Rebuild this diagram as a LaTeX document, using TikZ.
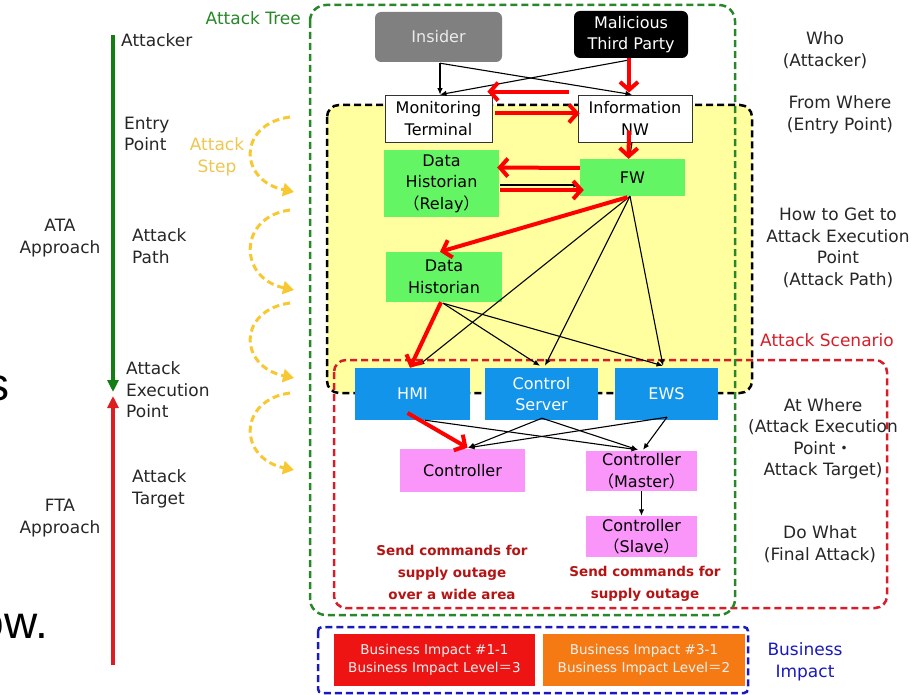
\documentclass[tikz,border=0pt]{standalone}
\usepackage{fontspec}
\setmainfont{DejaVu Sans}
\newfontfamily\cjk{Noto Sans CJK JP}
\newfontfamily\bodyfont{Liberation Sans}
\usetikzlibrary{arrows.meta}
% full-width punctuation
\newcommand\fwlp{{\cjk （}}
\newcommand\fwrp{{\cjk ）}}
\newcommand\fweq{{\cjk ＝}}
\newcommand\fwdot{{\cjk ・}}
\definecolor{treegreen}{RGB}{40,135,40}
\definecolor{axisgreen}{RGB}{20,125,20}
\definecolor{axisred}{RGB}{220,30,35}
\definecolor{scenred}{RGB}{215,30,40}
\definecolor{impblue}{RGB}{25,25,190}
\definecolor{pathyellow}{RGB}{255,255,160}
\definecolor{stepgold}{RGB}{248,200,50}
\definecolor{steptext}{RGB}{238,198,80}
\definecolor{insgray}{RGB}{128,128,128}
\definecolor{nodegreen}{RGB}{100,245,100}
\definecolor{nodeblue}{RGB}{18,148,235}
\definecolor{nodepink}{RGB}{250,150,250}
\definecolor{impred}{RGB}{238,20,20}
\definecolor{imporange}{RGB}{245,122,20}
\definecolor{cmdred}{RGB}{180,20,20}
\definecolor{arrred}{RGB}{255,0,0}
\begin{document}
\begin{tikzpicture}[x=1pt,y=-1pt,
  lbl/.style={font=\fontsize{17}{21.5}\selectfont, text=black!85, align=center, inner sep=0pt},
  box/.style={rectangle, inner sep=0pt, align=center, font=\fontsize{16}{21.5}\selectfont},
  impbox/.style={rectangle, inner sep=0pt, align=center, text=white!95!black,
    font=\fontsize{13.5}{18}\selectfont, minimum width=201pt, minimum height=52pt},
  cmd/.style={align=center, inner sep=0pt, text=cmdred, font=\bfseries\fontsize{13.5}{22}\selectfont},
  frame/.style={line width=2.5pt, dash pattern=on 7pt off 4pt, rounded corners=12pt},
  blk/.style={draw=black, line width=1.1pt, -{Latex[length=6.5pt,width=5.5pt]}},
  redarr/.style={draw=arrred, line width=4pt, -{Straight Barb[length=8pt,width=18pt]}},
  steparc/.style={draw=stepgold, line width=3pt, dash pattern=on 7pt off 4pt,
    -{Triangle[length=11pt,width=13pt,fill=stepgold]}},
  axis/.style={line width=4pt, -{Triangle[length=12pt,width=11pt]}},
  bodytxt/.style={anchor=base east, inner sep=0pt, font=\bodyfont\fontsize{46}{46}\selectfont}
]
\useasboundingbox (0,0) rectangle (921,695);

% fragments of large body text at the left edge
\node[bodytxt] (bigs) at (10,400) {s};
\node[bodytxt] (bigow) at (48,638) {ow.};

% approach axes
\coordinate (ataTop) at (113,35);
\coordinate (ataEnd) at (113,392);
\coordinate (ftaBot) at (113,665);
\coordinate (ftaEnd) at (113,396);
\draw[axis, draw=axisgreen, fill=axisgreen] (ataTop) -- (ataEnd);
\draw[axis, draw=axisred, fill=axisred] (ftaBot) -- (ftaEnd);

\node[lbl, anchor=west] (tAttacker) at (121,40) {Attacker};
\node[lbl, anchor=west, align=left] (tEntry) at (124,134) {Entry\\Point};
\node[lbl, anchor=west, align=left] (tPath) at (132,246) {Attack\\Path};
\node[lbl, anchor=west, align=left] (tExec) at (126,390) {Attack\\Execution\\Point};
\node[lbl, anchor=west, align=left] (tTarget) at (132,489) {Attack\\Target};
\node[lbl] (tATA) at (60,238) {ATA\\Approach};
\node[lbl] (tFTA) at (60,518) {FTA\\Approach};
\node[lbl, text=steptext] (tStep) at (217,157) {Attack\\Step};

% attack steps
\coordinate (s1a) at (290,117); \coordinate (s1b) at (294,192);
\coordinate (s2a) at (290,210); \coordinate (s2b) at (294,290);
\coordinate (s3a) at (290,303); \coordinate (s3b) at (294,378);
\coordinate (s4a) at (290,393); \coordinate (s4b) at (294,470);
\draw[steparc] (s1a) .. controls (238,124) and (238,180) .. (s1b);
\draw[steparc] (s2a) .. controls (238,217) and (238,278) .. (s2b);
\draw[steparc] (s3a) .. controls (238,310) and (238,366) .. (s3b);
\draw[steparc] (s4a) .. controls (238,400) and (238,458) .. (s4b);

% frames
\draw[frame, fill=pathyellow, draw=black] (327,105) rectangle (752,393);
\draw[frame, draw=scenred] (334,360) rectangle (887,608);
\draw[frame, draw=treegreen, rounded corners=16pt] (310,5) rectangle (735,615);
\draw[frame, draw=impblue, rounded corners=4pt] (318,627) rectangle (748,693);

\node[lbl, text=treegreen, anchor=east] (tTree) at (301,18) {Attack Tree};
\node[lbl, text=scenred] (tScen) at (827,340) {Attack Scenario};
\node[lbl, text=impblue] (tImp) at (805,662) {Business\\Impact};

% right-hand questions
\node[lbl] (qWho) at (825,50) {Who\\(Attacker)};
\node[lbl] (qFrom) at (840,115) {From Where\\(Entry Point)};
\node[lbl] (qHow) at (838,248) {How to Get to\\Attack Execution\\Point\\(Attack Path)};
\node[lbl] (qAt) at (823,439) {At Where\\(Attack Execution\\Point\fwdot\\Attack Target)};
\node[lbl] (qDo) at (820,544) {Do What\\(Final Attack)};

% nodes
\node[box, fill=insgray, text=white!92!black, rounded corners=6pt, minimum width=127pt, minimum height=50pt] (ins) at (438.5,37) {Insider};
\node[box, fill=black, text=white, rounded corners=6pt, minimum width=114pt, minimum height=47pt] (mal) at (631,34.5) {Malicious\\Third Party};
\node[box, fill=white, draw=black!80, line width=0.8pt, minimum width=107pt, minimum height=47pt] (mon) at (438.5,118.5) {Monitoring\\Terminal};
\node[box, fill=white, draw=black!80, line width=0.8pt, minimum width=114pt, minimum height=47pt] (info) at (635,118.5) {Information\\NW};
\node[box, fill=nodegreen, minimum width=115pt, minimum height=67pt] (dhr) at (441.5,183.5) {Data\\Historian\\\fwlp Relay\fwrp};
\node[box, fill=nodegreen, minimum width=105pt, minimum height=37pt] (fw) at (632.5,177.5) {FW};
\node[box, fill=nodegreen, minimum width=116pt, minimum height=50pt] (dh) at (444,277) {Data\\Historian};
\node[box, fill=nodeblue, text=white, minimum width=115pt, minimum height=52pt] (hmi) at (412.5,394) {HMI};
\node[box, fill=nodeblue, text=white, minimum width=113pt, minimum height=52pt] (cs) at (541.5,394) {Control\\Server};
\node[box, fill=nodeblue, text=white, minimum width=103pt, minimum height=52pt] (ews) at (666.5,394) {EWS};
\node[box, fill=nodepink, minimum width=125pt, minimum height=43pt] (ctrl) at (462.5,470.5) {Controller};
\node[box, fill=nodepink, minimum width=111pt, minimum height=40pt] (ctrlm) at (641.5,471) {Controller\\\fwlp Master\fwrp};
\node[box, fill=nodepink, minimum width=111pt, minimum height=41pt] (ctrls) at (641.5,536.5) {Controller\\\fwlp Slave\fwrp};

\node[cmd] (cmdWide) at (452,572) {Send commands for\\supply outage\\over a wide area};
\node[cmd] (cmdOne) at (645,584) {Send commands for\\supply outage};

\node[impbox, fill=impred] (bi1) at (434.5,660) {Business Impact \#1-1\\Business Impact Level\fweq 3};
\node[impbox, fill=imporange, minimum width=202pt] (bi3) at (644,660) {Business Impact \#3-1\\Business Impact Level\fweq 2};

% black connectors
\draw[blk] ([shift={(1.5,1)}]ins.south) -- ([shift={(1.5,0)}]mon.north);
\draw[blk] ([shift={(1.5,1)}]ins.south) -- ([shift={(-3,0)}]info.north);
\draw[blk] ([shift={(-3,2)}]mal.south) -- ([shift={(1.5,0)}]mon.north);
\draw[blk] ([shift={(-3,0)}]info.south) -- ([shift={(-3,0)}]fw.north);
\draw[blk] ([shift={(1,1.5)}]dhr.east) -- ([shift={(0,7.5)}]fw.west);
\coordinate (fwb) at ([shift={(-2.5,0)}]fw.south);
\coordinate (dhb) at ([shift={(-1,1)}]dh.south);
\draw[blk] (fwb) -- ([shift={(5.5,-2)}]hmi.north);
\draw[blk] (fwb) -- ([shift={(3.5,-2)}]cs.north);
\draw[blk] (fwb) -- ([shift={(-3.5,-2)}]ews.north);
\draw[blk] (dhb) -- ([shift={(-1.5,-2)}]cs.north);
\draw[blk] (dhb) -- ([shift={(-3.5,-2)}]ews.north);
\coordinate (hmib) at ([shift={(12.5,0)}]hmi.south);
\coordinate (csb) at ([shift={(0.5,-2)}]cs.south);
\coordinate (ewsb) at ([shift={(0.5,-3)}]ews.south);
\draw[blk] (hmib) -- ([shift={(-3.5,-1)}]ctrlm.north);
\draw[blk] (csb) -- ([shift={(5.5,-1)}]ctrl.north);
\draw[blk] (csb) -- ([shift={(-3.5,-1)}]ctrlm.north);
\draw[blk] (ewsb) -- ([shift={(5.5,-1)}]ctrl.north);
\draw[blk] (ewsb) -- ([shift={(1.5,-1)}]ctrlm.north);
\draw[blk] (ctrlm.south) -- (ctrls.north);

% attack path
\draw[redarr] ([shift={(-2,0)}]mal.south) -- ([shift={(-6,-2)}]info.north);
\draw[redarr] ([shift={(-9,-3)}]info.north west) -- ([shift={(-5,-3)}]mon.north east);
\draw[redarr] ([shift={(3,-5)}]mon.east) -- ([shift={(2,-5)}]info.west);
\draw[redarr] ([shift={(-6,12)}]info.center) -- ([shift={(-4,0)}]fw.north);
\draw[redarr] ([shift={(0,-9.5)}]fw.west) -- ([shift={(-2,-16)}]dhr.east);
\draw[redarr] ([shift={(1,6.5)}]dhr.east) -- ([shift={(4,12.5)}]fw.west);
\draw[redarr] ([shift={(-5,1)}]fw.south) -- ([shift={(-4,0)}]dh.north);
\draw[redarr] ([shift={(-3,0)}]dh.south) -- ([shift={(-2.5,0)}]hmi.north);
\draw[redarr] ([shift={(-5,19)}]hmi.center) -- ([shift={(5,-1)}]ctrl.north);
\end{tikzpicture}
\end{document}
